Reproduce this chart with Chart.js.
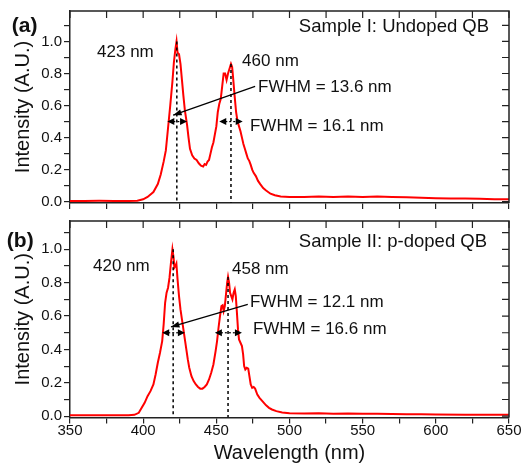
<!DOCTYPE html>
<html>
<head>
<meta charset="utf-8">
<script src="https://cdn.jsdelivr.net/npm/chart.js@4.4.1/dist/chart.umd.min.js"></script>
<style>
  html, body { margin: 0; padding: 0; background: #fff; }
  #wrap { position: relative; width: 522px; height: 468px; }
  .box { position: absolute; left: 0; width: 522px; }
</style>
</head>
<body>
<div id="wrap">
  <div class="box" style="top:0;height:214px"><canvas id="chartA"></canvas></div>
  <div class="box" style="top:210px;height:258px"><canvas id="chartB"></canvas></div>
</div>
<script>
// sample I: undoped QB
const wavelengthA = [350, 360, 370, 380, 390, 396, 400, 403, 407, 410, 412, 414, 415.5, 417, 418.5, 420, 421, 422, 422.8, 423.5,
  424.5, 425.5, 426.5, 427.5, 428.5, 430, 431, 432, 433.5, 435, 436.5, 438, 439.5, 441, 442, 443, 444, 445, 446, 447,
  448, 449, 450, 451, 452, 453, 454, 455, 456, 457, 458, 459, 460, 460.8, 461.5, 462.5, 463.5, 464.5, 465.5, 466.5,
  467.5, 468.5, 469.5, 470.5, 471.5, 472.5, 473.5, 474.5, 475.5, 477, 478.5, 480, 482, 484, 487, 490, 494, 500, 510, 520,
  530, 540, 550, 560, 570, 580, 590, 600, 610, 620, 630, 640, 650];
const intensityA = [0.005, 0.005, 0.006, 0.005, 0.005, 0.006, 0.015, 0.03, 0.06, 0.11, 0.17, 0.25, 0.32, 0.46, 0.6, 0.75, 0.87, 0.95, 1.0, 0.93,
  0.92, 0.86, 0.76, 0.66, 0.57, 0.48, 0.4, 0.33, 0.29, 0.27, 0.26, 0.24, 0.225, 0.22, 0.235, 0.23, 0.25, 0.26, 0.3, 0.34,
  0.37, 0.42, 0.47, 0.56, 0.61, 0.64, 0.72, 0.8, 0.8, 0.76, 0.8, 0.83, 0.86, 0.84, 0.77, 0.66, 0.56, 0.5, 0.47, 0.44,
  0.4, 0.36, 0.33, 0.3, 0.27, 0.255, 0.23, 0.2, 0.18, 0.16, 0.13, 0.11, 0.085, 0.07, 0.05, 0.04, 0.033, 0.03, 0.03, 0.032,
  0.03, 0.033, 0.03, 0.032, 0.03, 0.028, 0.025, 0.022, 0.02, 0.02, 0.018, 0.016, 0.015];

// sample II: p-doped QB
const wavelengthB = [350, 360, 370, 380, 390, 394, 397, 399, 401, 403, 405, 407, 408.5, 410, 411.5, 413, 414, 415, 416, 417,
  418, 419, 420, 420.8, 421.3, 422, 422.7, 423.5, 424.5, 425.5, 426.5, 427.5, 428.5, 429.5, 430.5, 431.5, 433, 434.5, 436, 437.5,
  439, 440.5, 442, 443.5, 445, 446.5, 448, 449.5, 450.5, 451.5, 452.5, 453.5, 454.3, 455, 455.8, 456.6, 457.4, 458, 458.7, 459.4,
  460.2, 461, 461.8, 462.6, 463.3, 464, 464.8, 465.5, 466.5, 467.5, 468.3, 469, 469.8, 470.8, 471.8, 472.6, 473.5, 474.5, 475.5, 476.5,
  478, 479.5, 481, 482.5, 484, 486, 488, 491, 495, 500, 510, 520, 530, 540, 550, 560, 570, 580, 590, 600,
  620, 640, 650];
const intensityB = [0.005, 0.005, 0.005, 0.005, 0.005, 0.008, 0.02, 0.05, 0.08, 0.12, 0.15, 0.19, 0.25, 0.32, 0.38, 0.45, 0.55, 0.68, 0.74, 0.77,
  0.83, 0.92, 1.0, 0.95, 0.89, 0.9, 0.915, 0.82, 0.72, 0.64, 0.58, 0.52, 0.46, 0.4, 0.34, 0.29, 0.24, 0.21, 0.19, 0.175,
  0.165, 0.165, 0.175, 0.19, 0.22, 0.26, 0.31, 0.39, 0.45, 0.53, 0.6, 0.66, 0.665, 0.63, 0.66, 0.73, 0.8, 0.835, 0.8, 0.74,
  0.72, 0.7, 0.74, 0.76, 0.72, 0.63, 0.52, 0.46, 0.44, 0.42, 0.37, 0.3, 0.28, 0.29, 0.285, 0.24, 0.19, 0.17, 0.175, 0.165,
  0.13, 0.11, 0.095, 0.08, 0.065, 0.05, 0.04, 0.03, 0.022, 0.017, 0.016, 0.017, 0.015, 0.016, 0.015, 0.014, 0.013, 0.012, 0.011, 0.01,
  0.009, 0.008, 0.008];

const xTickValues = [350, 375, 400, 425, 450, 475, 500, 525, 550, 575, 600, 625, 650];
const xTickLabels = [350, 400, 450, 500, 550, 600, 650];
const yTickValues = [0, 0.1, 0.2, 0.3, 0.4, 0.5, 0.6, 0.7, 0.8, 0.9, 1.0, 1.1];
const yTickLabels = [0, 0.2, 0.4, 0.6, 0.8, 1.0];

// peak positions, FWHM text
const peaksA = [423, 460], peakTopsA = [1.0, 0.86];
const peaksB = [420.5, 458], peakTopsB = [1.0, 0.835];
const peakTextA = ['423 nm', '460 nm'], fwhmTextA = ['FWHM = 13.6 nm', 'FWHM = 16.1 nm'];
const peakTextB = ['420 nm', '458 nm'], fwhmTextB = ['FWHM = 12.1 nm', 'FWHM = 16.6 nm'];
const spansA = [[416.5, 430], [452, 468]];
const spansB = [[413, 428.5], [449, 467.5]];

Chart.defaults.font.family = '"Liberation Sans", Arial, sans-serif';
Chart.defaults.color = '#111';

const decor = {
  id: 'decor',
  afterDatasetsDraw(chart, args, o) {
    const { ctx, chartArea: a, scales: { x, y } } = chart;
    const X = v => x.getPixelForValue(v), Y = v => y.getPixelForValue(v);
    ctx.save();
    // top/right frame with inward ticks
    ctx.strokeStyle = '#222';
    ctx.lineWidth = 1.5;
    ctx.beginPath();
    ctx.moveTo(a.left, a.top); ctx.lineTo(a.right, a.top); ctx.lineTo(a.right, a.bottom);
    ctx.stroke();
    ctx.lineWidth = 1.2;
    ctx.beginPath();
    xTickValues.forEach(v => { ctx.moveTo(X(v), a.top); ctx.lineTo(X(v), a.top + 7); });
    yTickValues.forEach(v => { ctx.moveTo(a.right, Y(v)); ctx.lineTo(a.right - 7, Y(v)); });
    ctx.stroke();

    // dashed lines at the peaks
    ctx.strokeStyle = '#000';
    ctx.lineWidth = 1.5;
    ctx.setLineDash([3, 3]);
    ctx.beginPath();
    o.peaks.forEach((p, i) => { ctx.moveTo(X(p), Y(o.tops[i])); ctx.lineTo(X(p), Y(0) + 1); });
    ctx.stroke();

    // FWHM markers
    const head = (px, py, dir) => {
      ctx.beginPath();
      ctx.moveTo(px, py);
      ctx.lineTo(px - dir * 7, py - 3.5);
      ctx.lineTo(px - dir * 7, py + 3.5);
      ctx.closePath();
      ctx.fill();
    };
    ctx.fillStyle = '#000';
    o.spans.forEach(s => {
      const y0 = Y(0.5);
      ctx.setLineDash([2, 2]);
      ctx.lineWidth = 1.2;
      ctx.beginPath();
      ctx.moveTo(X(s[0]) + 6, y0); ctx.lineTo(X(s[1]) - 6, y0);
      ctx.stroke();
      ctx.setLineDash([]);
      head(X(s[0]), y0, -1);
      head(X(s[1]), y0, 1);
    });

    // pointer from the FWHM text to the first peak
    ctx.setLineDash([]);
    ctx.lineWidth = 1.2;
    const [p0, p1] = o.pointer;
    const x0 = X(p0[0]), y0 = Y(p0[1]), x1 = X(p1[0]), y1 = Y(p1[1]);
    ctx.beginPath(); ctx.moveTo(x0, y0); ctx.lineTo(x1, y1); ctx.stroke();
    const ang = Math.atan2(y1 - y0, x1 - x0);
    ctx.beginPath();
    ctx.moveTo(x1, y1);
    ctx.lineTo(x1 - 9 * Math.cos(ang - 0.35), y1 - 9 * Math.sin(ang - 0.35));
    ctx.lineTo(x1 - 9 * Math.cos(ang + 0.35), y1 - 9 * Math.sin(ang + 0.35));
    ctx.closePath(); ctx.fill();

    // texts
    ctx.fillStyle = '#111';
    ctx.textBaseline = 'middle';
    o.texts.forEach(t => {
      ctx.font = (t.bold ? 'bold ' : '') + t.size + 'px "Liberation Sans", Arial, sans-serif';
      ctx.textAlign = t.align || 'left';
      ctx.fillText(t.text, X(t.x), Y(t.y));
    });
    ctx.restore();
  }
};

function makeChart(id, xs, ys, yMax, showX, deco) {
  return new Chart(document.getElementById(id), {
    type: 'line',
    data: {
      datasets: [{
        data: xs.map((v, i) => ({ x: v, y: ys[i] })),
        borderColor: '#ff0000',
        borderWidth: 2,
        pointRadius: 0,
        tension: 0
      }]
    },
    options: {
      responsive: true,
      maintainAspectRatio: false,
      animation: false,
      layout: { padding: showX ? { top: 1, right: 13, bottom: 3, left: 0 } : { top: 4, right: 13, bottom: 0, left: 0 } },
      plugins: { legend: { display: false }, tooltip: { enabled: false }, decor: deco },
      scales: {
        x: {
          type: 'linear', min: 350, max: 650,
          afterBuildTicks: s => { s.ticks = xTickValues.map(v => ({ value: v })); },
          afterFit: s => { s.height = showX ? 47.5 : 7; },
          ticks: {
            autoSkip: false, maxRotation: 0, padding: -2,
            font: { size: 15 },
            callback: v => (showX && xTickLabels.includes(v)) ? String(v) : ''
          },
          grid: { drawOnChartArea: false, tickLength: 6, color: '#222', lineWidth: 1.2 },
          border: { color: '#222', width: 1.5 },
          title: {
            display: showX, text: 'Wavelength (nm)',
            font: { size: 20 }, padding: { top: 0, bottom: 0 }
          }
        },
        y: {
          min: -0.008, max: yMax,
          afterBuildTicks: s => { s.ticks = yTickValues.map(v => ({ value: v })); },
          afterFit: s => { s.width = 70; },
          ticks: {
            autoSkip: false, padding: 2,
            font: { size: 15 },
            callback: v => yTickLabels.some(t => Math.abs(t - v) < 1e-6) ? v.toFixed(1) : ''
          },
          grid: { drawOnChartArea: false, tickLength: 6, color: '#222', lineWidth: 1.2 },
          border: { color: '#222', width: 1.5 },
          title: {
            display: true, text: 'Intensity (A.U.)',
            font: { size: 20 }, padding: { top: 11, bottom: 0 }
          }
        }
      }
    },
    plugins: [decor]
  });
}

makeChart('chartA', wavelengthA, intensityA, 1.19, false, {
  peaks: peaksA, tops: peakTopsA, spans: spansA,
  pointer: [[476.5, 0.72], [420.5, 0.54]],
  texts: [
    { text: '(a)', x: 319, y: 1.094, size: 21, bold: true, align: 'center' },
    { text: peakTextA[0], x: 368.5, y: 0.93, size: 17 },
    { text: peakTextA[1], x: 467.6, y: 0.876, size: 17 },
    { text: 'Sample I: Undoped QB', x: 636.4, y: 1.088, size: 18.5, align: 'right' },
    { text: fwhmTextA[0], x: 478.5, y: 0.712, size: 17 },
    { text: fwhmTextA[1], x: 473, y: 0.47, size: 17 }
  ]
});

makeChart('chartB', wavelengthB, intensityB, 1.17, true, {
  peaks: peaksB, tops: peakTopsB, spans: spansB,
  pointer: [[471.5, 0.67], [419, 0.535]],
  texts: [
    { text: '(b)', x: 316, y: 1.05, size: 21, bold: true, align: 'center' },
    { text: peakTextB[0], x: 365.7, y: 0.898, size: 17 },
    { text: peakTextB[1], x: 460.7, y: 0.88, size: 17 },
    { text: 'Sample II: p-doped QB', x: 635, y: 1.045, size: 18.5, align: 'right' },
    { text: fwhmTextB[0], x: 473, y: 0.68, size: 17 },
    { text: fwhmTextB[1], x: 475, y: 0.52, size: 17 }
  ]
});
</script>
</body>
</html>
